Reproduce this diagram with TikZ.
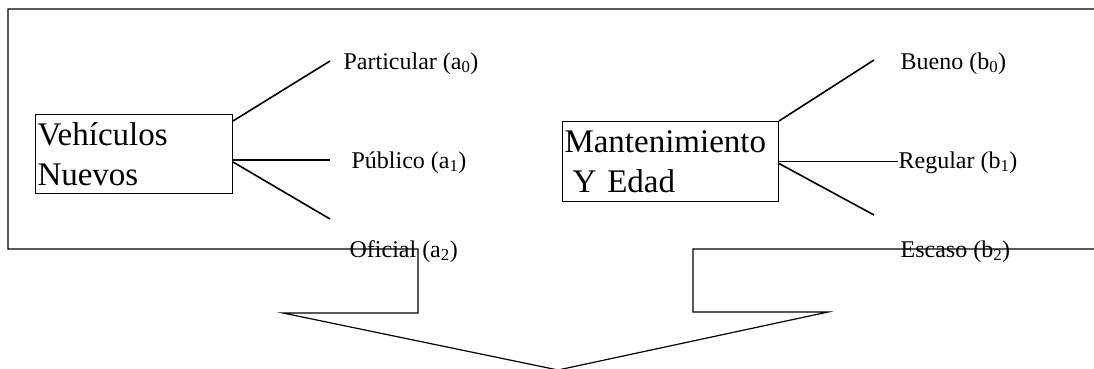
\documentclass[tikz,border=0pt]{standalone}
\usepackage{fontspec}
\setmainfont{Liberation Serif}
\begin{document}
\begin{tikzpicture}[x=1pt, y=-1pt, line width=1.2pt,
    caja/.style={draw, line width=1pt, anchor=north west, inner xsep=2pt, inner ysep=0pt, align=left, font=\fontsize{33}{40}\selectfont},
    opcion/.style={anchor=base west, inner sep=0pt, font=\fontsize{24}{29}\selectfont},
    rama/.style={line width=1.6pt}]
    \useasboundingbox (0,0) rectangle (1094,368);
    % marco y flecha
    \draw (1094,9) -- (8,9) -- (8,249) -- (418,249) -- (418,313) -- (283,313) -- (558,370)
          -- (828,312) -- (693,312) -- (693,249) -- (1094,249);
    \node[caja, minimum width=197pt, minimum height=79pt, text width=193pt] (veh) at (35,114) {Vehículos\\Nuevos};
    \node[caja, minimum width=216pt, minimum height=80pt, text width=212pt] (man) at (562,121) {Mantenimiento\\\hspace*{8pt}Y Edad};
    \foreach \nombre/\x/\y/\texto in {a0/343/69/{Particular (a\textsubscript{0})}, a1/351/168/{Público (a\textsubscript{1})},
        a2/349/257/{Oficial (a\textsubscript{2})}, b0/900/69/{Bueno (b\textsubscript{0})},
        b1/898/168/{Regular (b\textsubscript{1})}, b2/900/257/{Escaso (b\textsubscript{2})}} {
        \node[opcion] (\nombre) at (\x,\y) {\texto};
    }
    \coordinate (fa0) at (330,61);
    \coordinate (fa1) at (330,160);
    \coordinate (fa2) at (330,219);
    \coordinate (fb0) at (874,60);
    \coordinate (fb2) at (874,215);
    \draw[rama] ([yshift=-7pt]veh.north east) -- (fa0);
    \draw[rama] ([yshift=-6pt]veh.east) -- (fa1);
    \draw[rama] ([yshift=-8pt]veh.east) -- (fa2);
    \draw[rama] (man.north east) -- (fb0);
    \draw[rama] (man.east) -- (man.east -| b1.west);
    \draw[rama] ([yshift=-2pt]man.east) -- (fb2);
\end{tikzpicture}
\end{document}
